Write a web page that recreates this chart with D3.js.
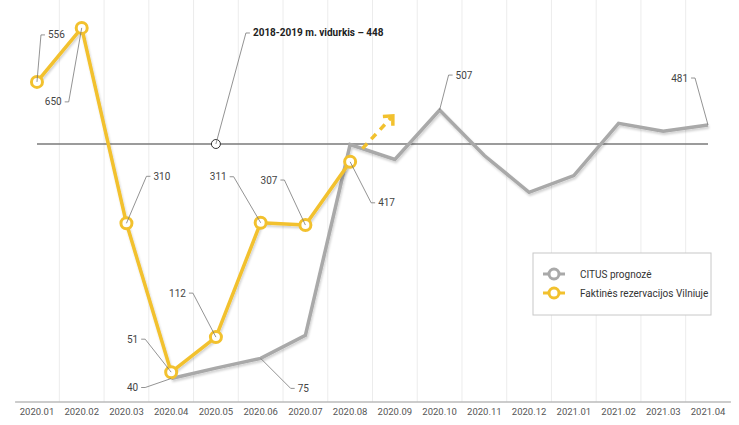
<!DOCTYPE html>
<html>
<head>
<meta charset="utf-8">
<script src="https://cdn.jsdelivr.net/npm/d3@7/dist/d3.min.js"></script>
<style>
  html, body { margin: 0; padding: 0; background: #fff; }
  svg { display: block; font-family: Roboto, "Liberation Sans", Arial, sans-serif; }
</style>
</head>
<body>
<svg id="chart" width="739" height="425"></svg>
<script>
// ---------- DATA ----------
const categories = ["2020.01","2020.02","2020.03","2020.04","2020.05","2020.06","2020.07","2020.08",
                    "2020.09","2020.10","2020.11","2020.12","2021.01","2021.02","2021.03","2021.04"];
const citusValues  = [null,null,null,40,58,75,115,447,421,507,428,364,393,484,470,481];
const actualValues = [556,650,310,51,112,311,307,417,null,null,null,null,null,null,null,null];
const averageValue = 448;
const averageLabel = "2018-2019 m. vidurkis – 448";
const averageMarkerCategory = "2020.05";
const trendTarget = { from: "2020.08", to: "2020.09", value: 497 };
const seriesNames = ["CITUS prognozė", "Faktinės rezervacijos Vilniuje"];

// value labels: series, category, text
const valueLabels = [
  { s: "actual", c: "2020.01", t: "556" },
  { s: "actual", c: "2020.02", t: "650" },
  { s: "actual", c: "2020.03", t: "310" },
  { s: "actual", c: "2020.04", t: "51"  },
  { s: "citus",  c: "2020.04", t: "40"  },
  { s: "actual", c: "2020.05", t: "112" },
  { s: "actual", c: "2020.06", t: "311" },
  { s: "actual", c: "2020.07", t: "307" },
  { s: "citus",  c: "2020.06", t: "75"  },
  { s: "actual", c: "2020.08", t: "417" },
  { s: "citus",  c: "2020.10", t: "507" },
  { s: "citus",  c: "2021.04", t: "481" }
];
// leader layout (pixel offsets of the elbow from the point, and side of text)
const leaderLayout = {
  "actual|2020.01": { dx: 4,   dy: -47, side: "right" },
  "actual|2020.02": { dx: -13, dy: 74,  side: "left"  },
  "actual|2020.03": { dx: 20,  dy: -47, side: "right" },
  "actual|2020.04": { dx: -26, dy: -33, side: "left"  },
  "citus|2020.04":  { dx: -26, dy: 9,   side: "left"  },
  "actual|2020.05": { dx: -23, dy: -44, side: "left"  },
  "actual|2020.06": { dx: -27, dy: -46, side: "left"  },
  "actual|2020.07": { dx: -21, dy: -45, side: "left"  },
  "citus|2020.06":  { dx: 30,  dy: 30,  side: "right" },
  "actual|2020.08": { dx: 21,  dy: 41,  side: "right" },
  "citus|2020.10":  { dx: 9,   dy: -35, side: "right" },
  "citus|2021.04":  { dx: -13, dy: -47, side: "left"  },
  "average":        { dx: 30,  dy: -111, side: "right" }
};

// ---------- STYLE ----------
const COL_GREY = "#a9a9a9";
const COL_YEL = "#f2c12e";
const COL_TEXT = "#444";

const svg = d3.select("#chart");

const x = d3.scaleBand().domain(categories).range([14.6, 730.4]).padding(0);
const cx = c => x(c) + x.bandwidth() / 2;
const pxPerUnit = 0.5748;
const y0 = 401.5;
const y = d3.scaleLinear().domain([0, 700]).range([y0, y0 - 700 * pxPerUnit]);

// defs: shadow filter
const defs = svg.append("defs");
const f = defs.append("filter").attr("id", "shadow").attr("x", "-10%").attr("y", "-10%").attr("width", "120%").attr("height", "130%");
f.append("feDropShadow").attr("dx", 1).attr("dy", 2).attr("stdDeviation", 1.2).attr("flood-color", "#000").attr("flood-opacity", 0.18);

// vertical grid lines at band boundaries
const bounds = categories.slice(1).map(c => x(c));
svg.append("g").selectAll("line").data(bounds).join("line")
  .attr("x1", d => d).attr("x2", d => d).attr("y1", 0).attr("y2", y0)
  .attr("stroke", "#ececec").attr("stroke-width", 1);

// x axis
const xAxis = d3.axisBottom(x).tickSize(0).tickPadding(7);
const gx = svg.append("g").attr("transform", `translate(0,${y0})`).call(xAxis);
gx.select(".domain").attr("stroke", "#999").attr("stroke-width", 1);
gx.selectAll("text").attr("fill", "#555").attr("font-size", "9.5px")
  .attr("font-family", "Roboto, 'Liberation Sans', Arial, sans-serif");

// average reference line
svg.append("line")
  .attr("x1", cx(categories[0])).attr("x2", cx(categories[categories.length - 1]))
  .attr("y1", y(averageValue)).attr("y2", y(averageValue))
  .attr("stroke", "#7a7a7a").attr("stroke-width", 1.6);

// series data
const citusData = categories.map((c, i) => ({ c, v: citusValues[i] })).filter(d => d.v != null);
const actualData = categories.map((c, i) => ({ c, v: actualValues[i] })).filter(d => d.v != null);
const line = d3.line().x(d => cx(d.c)).y(d => y(d.v));

svg.append("path").datum(citusData).attr("d", line)
  .attr("fill", "none").attr("stroke", COL_GREY).attr("stroke-width", 3.5)
  .attr("stroke-linejoin", "miter").attr("filter", "url(#shadow)");

svg.append("path").datum(actualData).attr("d", line)
  .attr("fill", "none").attr("stroke", COL_YEL).attr("stroke-width", 3.5)
  .attr("stroke-linejoin", "round").attr("filter", "url(#shadow)");

// trend arrow (dashed)
{
  const p0 = [cx(trendTarget.from), y(actualValues[categories.indexOf(trendTarget.from)])];
  const p1 = [cx(trendTarget.to) - 2, y(trendTarget.value)];
  const dxv = p1[0] - p0[0], dyv = p1[1] - p0[1];
  const len = Math.hypot(dxv, dyv);
  const ux = dxv / len, uy = dyv / len;
  const s = [p0[0] + ux * 18, p0[1] + uy * 18];
  svg.append("line").attr("x1", s[0]).attr("y1", s[1]).attr("x2", p1[0] - ux * 2).attr("y2", p1[1] - uy * 2)
    .attr("stroke", COL_YEL).attr("stroke-width", 3.5).attr("stroke-dasharray", "7,6");
  // chevron head
  const hl = 10, ang = Math.PI / 4.2;
  const a = Math.atan2(uy, ux);
  const h1 = [p1[0] - hl * Math.cos(a - ang), p1[1] - hl * Math.sin(a - ang)];
  const h2 = [p1[0] - hl * Math.cos(a + ang), p1[1] - hl * Math.sin(a + ang)];
  svg.append("path").attr("d", `M${h1[0]},${h1[1]}L${p1[0]},${p1[1]}L${h2[0]},${h2[1]}`)
    .attr("fill", "none").attr("stroke", COL_YEL).attr("stroke-width", 3.5).attr("stroke-linejoin", "miter");
}

// yellow markers
svg.append("g").selectAll("circle").data(actualData).join("circle")
  .attr("cx", d => cx(d.c)).attr("cy", d => y(d.v)).attr("r", 5.5)
  .attr("fill", "#fff").attr("stroke", COL_YEL).attr("stroke-width", 3);

// average marker
svg.append("circle").attr("cx", cx(averageMarkerCategory)).attr("cy", y(averageValue)).attr("r", 4.5)
  .attr("fill", "#fff").attr("stroke", "#333").attr("stroke-width", 1);

// leaders + labels
function drawLeader(px, py, lay, text, bold) {
  const ex = px + lay.dx, ey = py + lay.dy;
  const dir = lay.side === "right" ? 1 : -1;
  const tx = ex + dir * 4;
  svg.append("path").attr("d", `M${px},${py}L${ex},${ey}L${tx},${ey}`)
    .attr("fill", "none").attr("stroke", "#777").attr("stroke-width", 0.8);
  svg.append("text").attr("x", tx + dir * 3).attr("y", ey).attr("dy", "0.35em")
    .attr("text-anchor", dir > 0 ? "start" : "end")
    .attr("font-size", "10px").attr("font-weight", bold ? "bold" : "normal")
    .attr("fill", bold ? "#222" : COL_TEXT).text(text);
}
valueLabels.forEach(l => {
  const arr = l.s === "actual" ? actualValues : citusValues;
  const v = arr[categories.indexOf(l.c)];
  drawLeader(cx(l.c), y(v), leaderLayout[l.s + "|" + l.c], l.t, false);
});
drawLeader(cx(averageMarkerCategory), y(averageValue), leaderLayout["average"], averageLabel, true);

// legend
const lg = svg.append("g").attr("transform", "translate(533,253)");
lg.append("rect").attr("width", 178).attr("height", 62).attr("fill", "#fff").attr("stroke", "#c8c8c8").attr("stroke-width", 1);
const legendItems = [{ name: seriesNames[0], col: COL_GREY }, { name: seriesNames[1], col: COL_YEL }];
legendItems.forEach((it, i) => {
  const gy = 21 + i * 19;
  lg.append("line").attr("x1", 10).attr("x2", 32).attr("y1", gy).attr("y2", gy).attr("stroke", it.col).attr("stroke-width", 3);
  lg.append("circle").attr("cx", 21).attr("cy", gy).attr("r", 5).attr("fill", "#fff").attr("stroke", it.col).attr("stroke-width", 3);
  lg.append("text").attr("x", 47).attr("y", gy).attr("dy", "0.35em").attr("font-size", "10px").attr("fill", "#333").text(it.name);
});
</script>
</body>
</html>
